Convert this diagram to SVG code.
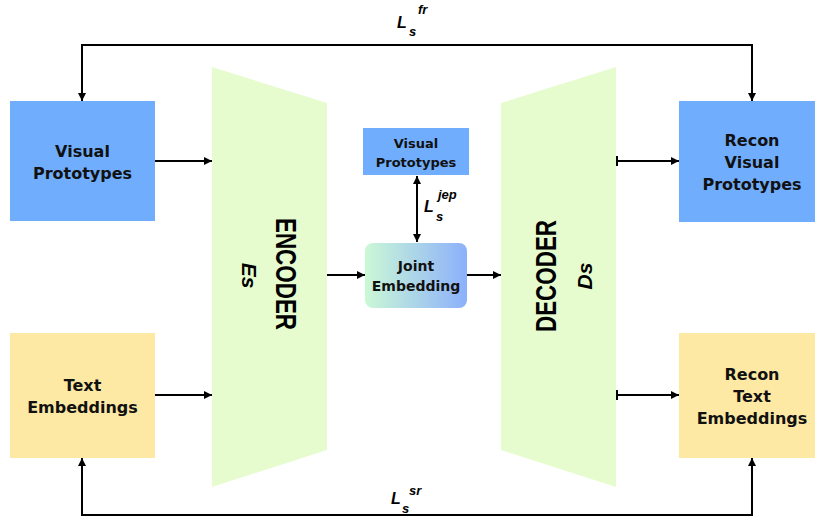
<svg xmlns="http://www.w3.org/2000/svg" width="815" height="518" viewBox="0 0 815 518">
<defs>
<marker id="ah" markerUnits="userSpaceOnUse" markerWidth="9" markerHeight="10" refX="8" refY="5" orient="auto-start-reverse">
<path d="M0,1 L8,5 L0,9 Z" fill="#000"/>
</marker>
<marker id="tick" markerUnits="userSpaceOnUse" markerWidth="4" markerHeight="12" refX="1" refY="6" orient="auto">
<path d="M1,1 V11" stroke="#000" stroke-width="2"/>
</marker>
<linearGradient id="jg" x1="0" y1="0" x2="1" y2="0">
<stop offset="0" stop-color="#cbf8d6"/>
<stop offset="1" stop-color="#8cb0fb"/>
</linearGradient>
</defs>
<style>
.lbl{font-family:"DejaVu Sans",sans-serif;font-weight:bold;fill:#111;text-anchor:middle}
.big{font-size:16px}
.sm{font-size:13px}
.md{font-size:14px}
.blue{fill:#70aefd}
.yel{fill:#fde9a4}
.trap{fill:#e6fccf}
.title{font-family:"Liberation Sans",Arial,sans-serif;font-weight:bold;font-size:29px;fill:#000;text-anchor:middle}
.sym{font-family:"Liberation Sans",Arial,sans-serif;font-style:italic;font-weight:bold;font-size:21px;fill:#000;text-anchor:middle}
.loss{font-family:"Liberation Sans",Arial,sans-serif;font-style:italic;font-weight:bold;fill:#000}
.conn{fill:none;stroke:#000;stroke-width:2}
</style>
<rect width="815" height="518" fill="#fff"/>

<g id="encoder">
<polygon class="trap" points="212,67 327,103 327,450 212,487"/>
<text class="title" transform="translate(276,274) rotate(90)" textLength="112" lengthAdjust="spacingAndGlyphs">ENCODER</text>
<text class="sym" transform="translate(242,275.5) rotate(90)">Es</text>
</g>

<g id="decoder">
<polygon class="trap" points="501,103 616,67 616,487 501,450"/>
<text class="title" transform="translate(556,276) rotate(-90)" textLength="112" lengthAdjust="spacingAndGlyphs">DECODER</text>
<text class="sym" transform="translate(592,276) rotate(-90)">Ds</text>
</g>

<g id="visual-prototypes">
<rect class="blue" x="10" y="101" width="145" height="120"/>
<text class="lbl big" x="82.5" y="157">Visual</text>
<text class="lbl big" x="82.5" y="179">Prototypes</text>
</g>

<g id="text-embeddings">
<rect class="yel" x="10" y="333" width="145" height="125"/>
<text class="lbl big" x="82.5" y="391">Text</text>
<text class="lbl big" x="82.5" y="413">Embeddings</text>
</g>

<g id="visual-prototypes-center">
<rect class="blue" x="363" y="128" width="106" height="47"/>
<text class="lbl sm" x="416" y="148">Visual</text>
<text class="lbl sm" x="416" y="167">Prototypes</text>
</g>

<g id="joint-embedding">
<rect x="365" y="243" width="102" height="65" rx="8" ry="8" fill="url(#jg)"/>
<text class="lbl md" x="416" y="271">Joint</text>
<text class="lbl md" x="416" y="291">Embedding</text>
</g>

<g id="recon-visual-prototypes">
<rect class="blue" x="679" y="101" width="146" height="121"/>
<text class="lbl big" x="752" y="146">Recon</text>
<text class="lbl big" x="752" y="168">Visual</text>
<text class="lbl big" x="752" y="190">Prototypes</text>
</g>

<g id="recon-text-embeddings">
<rect class="yel" x="679" y="333" width="146" height="125"/>
<text class="lbl big" x="752" y="380">Recon</text>
<text class="lbl big" x="752" y="402">Text</text>
<text class="lbl big" x="752" y="424">Embeddings</text>
</g>

<g id="connectors">
<path class="conn" d="M82,101 V45 H752 V101" marker-start="url(#ah)" marker-end="url(#ah)"/>
<path class="conn" d="M82,458 V515 H752 V458" marker-start="url(#ah)" marker-end="url(#ah)"/>
<path class="conn" d="M155,161 H212" marker-end="url(#ah)"/>
<path class="conn" d="M155,395 H212" marker-end="url(#ah)"/>
<path class="conn" d="M327,275 H365" marker-end="url(#ah)"/>
<path class="conn" d="M467,275 H501" marker-end="url(#ah)"/>
<path class="conn" d="M417,176 V242" marker-start="url(#ah)" marker-end="url(#ah)"/>
<path class="conn" d="M617,161 H679" marker-start="url(#tick)" marker-end="url(#ah)"/>
<path class="conn" d="M617,395 H679" marker-start="url(#tick)" marker-end="url(#ah)"/>
</g>

<g id="loss-labels">
<text class="loss" x="397" y="28" font-size="16">L</text>
<text class="loss" x="409" y="36" font-size="13">s</text>
<text class="loss" x="418" y="14" font-size="13">fr</text>
<text class="loss" x="424" y="212" font-size="16">L</text>
<text class="loss" x="436" y="221" font-size="13">s</text>
<text class="loss" x="438" y="199" font-size="13">jep</text>
<text class="loss" x="391" y="504" font-size="16">L</text>
<text class="loss" x="402" y="513" font-size="13">s</text>
<text class="loss" x="409" y="495" font-size="13">sr</text>
</g>
</svg>
